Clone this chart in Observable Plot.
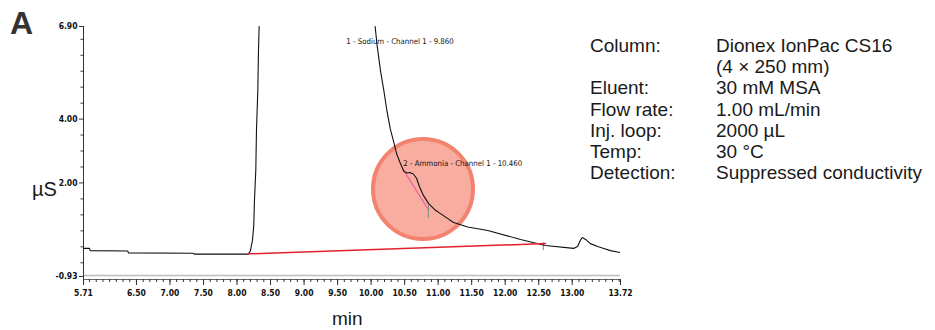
<!DOCTYPE html>
<html><head><meta charset="utf-8">
<script src="https://cdn.jsdelivr.net/npm/d3@7"></script>
<script src="https://cdn.jsdelivr.net/npm/@observablehq/plot@0.6"></script>
<style>
body{margin:0;background:#fff;}
#wrap{position:relative;width:935px;height:330px;font-family:"Liberation Sans",Arial,Helvetica,sans-serif;color:#1a1a1a;}
.lab{position:absolute;white-space:nowrap;line-height:1;}
#info{position:absolute;left:590px;top:35px;font-size:19px;line-height:21.2px;}
#info .row{display:flex;white-space:nowrap;}
#info .k{width:126px;}
svg text{font-stretch:condensed;}
</style></head><body><div id="wrap"></div>
<script>
// ---- data ----
const traceTime = [5.71, 5.80, 5.81, 6.37, 6.38, 7.34, 7.36, 8.14, 8.17, 8.20, 8.23, 8.25, 8.26, 8.28, 8.29, 8.31, 8.32, 8.33,
  8.34,
  10.06, 10.09, 10.14, 10.19, 10.235, 10.285, 10.335, 10.38, 10.425, 10.47, 10.49, 10.54, 10.58, 10.63, 10.68, 10.72, 10.78, 10.855, 10.945, 11.035,
  11.14, 11.23, 11.44, 11.74, 12.23, 12.60, 13.02, 13.08, 13.12, 13.15, 13.20, 13.27, 13.38, 13.47, 13.57, 13.72];
const traceSignal = [-0.05, -0.05, -0.12, -0.13, -0.19, -0.20, -0.23, -0.23, -0.23, -0.12, 0.20, 0.67, 1.45, 2.39, 3.64, 4.89, 6.15, 6.90,
  null,
  6.90, 6.30, 5.52, 4.89, 4.27, 3.70, 3.30, 2.92, 2.67, 2.45, 2.36, 2.31, 2.33, 2.28, 2.14, 1.89, 1.61, 1.36, 1.17, 1.04,
  0.89, 0.76, 0.62, 0.51, 0.23, 0.04, -0.05, 0.01, 0.20, 0.29, 0.23, 0.10, 0.01, -0.05, -0.12, -0.18];

const sodiumBaseTime = [8.17, 12.60];
const sodiumBaseSignal = [-0.22, 0.10];
const ammoniaBaseTime = [10.47, 10.86];
const ammoniaBaseSignal = [2.45, 1.14];

const delimTime = [10.855, 12.57];
const delimLow = [0.89, -0.12];
const delimHigh = [1.30, 0.12];

const peakLabels = ["1 - Sodium - Channel 1 - 9.860", "2 - Ammonia - Channel 1 - 10.460"];
const peakLabelTime = [9.63, 10.48];
const peakLabelSignal = [6.42, 2.61];

const highlightTime = [10.774];
const highlightSignal = [1.81];

const xMajorTicks = [5.71, 6.50, 7.00, 7.50, 8.00, 8.50, 9.00, 9.50, 10.00, 10.50, 11.00, 11.50, 12.00, 12.50, 13.00, 13.72];
const xMinorTicks = d3.range(58, 138).map(d => d / 10);
const yMajorTicks = [6.90, 4.00, 2.00, -0.93];
const yMinorTicks = [-0.5, 0, 0.5, 1, 1.5, 2.5, 3, 3.5, 4.5, 5, 5.5, 6, 6.5];
const xDomain = [5.71, 13.72];
const yDomain = [-1.024, 6.90];
const frameGrayLevel = [-0.90];

const infoKeys = ["Column:", "", "Eluent:", "Flow rate:", "Inj. loop:", "Temp:", "Detection:"];
const infoValues = ["Dionex IonPac CS16", "(4 × 250 mm)", "30 mM MSA", "1.00 mL/min", "2000 µL", "30 °C", "Suppressed conductivity"];

// ---- build ----
const trace = traceTime.map((t, i) => ({t, s: traceSignal[i]}));
const sodiumBase = sodiumBaseTime.map((t, i) => ({t, s: sodiumBaseSignal[i]}));
const ammoniaBase = ammoniaBaseTime.map((t, i) => ({t, s: ammoniaBaseSignal[i]}));
const delims = delimTime.map((t, i) => ({t, lo: delimLow[i], hi: delimHigh[i]}));
const labels = peakLabels.map((txt, i) => ({txt, t: peakLabelTime[i], s: peakLabelSignal[i]}));
const highlight = highlightTime.map((t, i) => ({t, s: highlightSignal[i]}));

const tickFont = "'DejaVu Sans Condensed','DejaVu Sans','Liberation Sans Narrow',sans-serif";

const chart = Plot.plot({
  width: 935, height: 330,
  marginLeft: 83, marginRight: 315, marginTop: 26, marginBottom: 51,
  x: {domain: xDomain, label: null},
  y: {domain: yDomain, label: null},
  style: {background: "transparent", fontFamily: tickFont, fontSize: "8px", color: "#222"},
  marks: [
    Plot.ruleY(frameGrayLevel, {stroke: "#b9c0b9", strokeWidth: 1.6}),
    Plot.ruleY([yDomain[0]], {stroke: "#666", strokeWidth: 1}),
    Plot.ruleX([xDomain[0]], {stroke: "#333", strokeWidth: 1}),
    Plot.axisX({ticks: xMajorTicks, label: null, tickFormat: d => d.toFixed(2), tickSize: 6, tickPadding: 4, fontSize: 8.5, fontWeight: "bold", stroke: "#333", fill: "#111"}),
    Plot.axisX({ticks: xMinorTicks, label: null, tickFormat: () => "", tickSize: 3, stroke: "#333"}),
    Plot.axisY({ticks: yMajorTicks, label: null, tickFormat: d => d.toFixed(2), tickSize: 4, tickPadding: 2, fontSize: 8.5, fontWeight: "bold", stroke: "#333", fill: "#111"}),
    Plot.axisY({ticks: yMinorTicks, label: null, tickFormat: () => "", tickSize: 2.5, stroke: "#333"}),
    Plot.dot(highlight, {x: "t", y: "s", r: 50, fill: "#f8ada0", stroke: "#f2836f", strokeWidth: 4}),
    Plot.line(ammoniaBase, {x: "t", y: "s", stroke: "#e8649c", strokeWidth: 1.2}),
    Plot.ruleX(delims, {x: "t", y1: "lo", y2: "hi", stroke: "#888", strokeWidth: 1}),
    Plot.line(trace, {x: "t", y: "s", stroke: "#111", strokeWidth: 1.1, clip: true}),
    Plot.line(sodiumBase, {x: "t", y: "s", stroke: "#e4202e", strokeWidth: 1.5}),
    Plot.text(labels, {x: "t", y: "s", text: "txt", textAnchor: "start", fontSize: 7.8, fill: "#111", fontFamily: tickFont})
  ]
});

const wrap = document.getElementById("wrap");
wrap.appendChild(chart);
chart.style.position = "absolute";
chart.style.left = "0px";
chart.style.top = "0px";

function addLabel(txt, left, top, css) {
  const d = document.createElement("div");
  d.className = "lab";
  d.textContent = txt;
  d.style.left = left + "px";
  d.style.top = top + "px";
  Object.assign(d.style, css || {});
  wrap.appendChild(d);
  return d;
}
addLabel("A", 10, 7, {fontSize: "32px", fontWeight: "bold", color: "#333"});
addLabel("µS", 32, 179, {fontSize: "20px"});
addLabel("min", 332, 309, {fontSize: "19px"});

const info = document.createElement("div");
info.id = "info";
infoKeys.forEach((k, i) => {
  const row = document.createElement("div");
  row.className = "row";
  const a = document.createElement("span"); a.className = "k"; a.textContent = k;
  const b = document.createElement("span"); b.textContent = infoValues[i];
  row.appendChild(a); row.appendChild(b);
  info.appendChild(row);
});
wrap.appendChild(info);
</script></body></html>
